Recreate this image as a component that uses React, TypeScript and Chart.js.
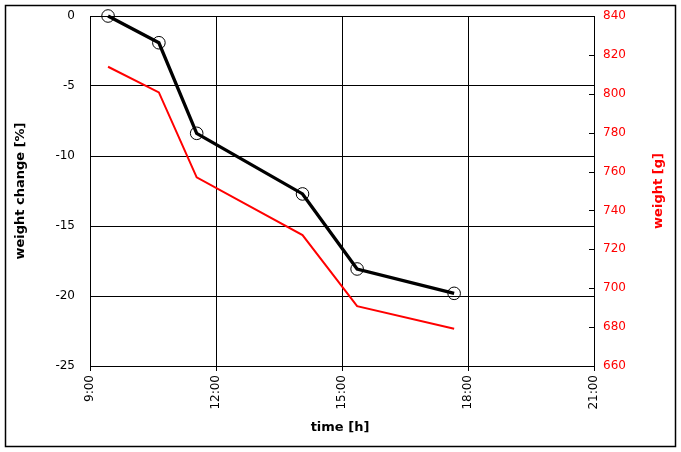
import React, { useEffect, useRef } from "react";
import { Chart, registerables } from "chart.js";

Chart.register(...registerables);

// time of day in hours
const times = [9.43, 10.64, 11.54, 14.06, 15.36, 17.67];
// weight change [%]
const weightChange = [0, -1.91, -8.38, -12.71, -18.07, -19.81];
// weight [g]
const weightGrams = [813.9, 800.7, 757.0, 727.3, 690.8, 679.2];

const xTickHours = [9, 12, 15, 18, 21];
const xTitle = "time [h]";
const yTitle = "weight change [%]";
const y1Title = "weight [g]";

const FONT = "'DejaVu Sans', Verdana, sans-serif";
const RED = "#ff0000";

const noPad = (scale: any) => {
  scale.paddingTop = 0;
  scale.paddingBottom = 0;
  scale.paddingLeft = 0;
  scale.paddingRight = 0;
};

const decorPlugin = {
  id: "decor",
  afterDraw(chart: any) {
    const ctx = chart.ctx;
    const area = chart.chartArea;
    const y1 = chart.scales.y1;
    ctx.save();
    // outer frame
    ctx.strokeStyle = "#000";
    ctx.lineWidth = 1.5;
    ctx.strokeRect(5.5, 5.5, chart.width - 11, chart.height - 11);
    // inward ticks on right axis
    ctx.lineWidth = 1;
    y1.ticks.forEach((t: any) => {
      const py = Math.round(y1.getPixelForValue(t.value)) + 0.5;
      ctx.beginPath();
      ctx.moveTo(area.right - 5, py);
      ctx.lineTo(area.right, py);
      ctx.stroke();
    });
    // titles
    const cy = (area.top + area.bottom) / 2;
    ctx.font = `bold 13px ${FONT}`;
    ctx.textAlign = "center";
    ctx.textBaseline = "middle";
    ctx.fillStyle = "#000";
    ctx.save();
    ctx.translate(21, cy);
    ctx.rotate(-Math.PI / 2);
    ctx.fillText(yTitle, 0, 0);
    ctx.restore();
    ctx.save();
    ctx.fillStyle = RED;
    ctx.translate(659, cy);
    ctx.rotate(-Math.PI / 2);
    ctx.fillText(y1Title, 0, 0);
    ctx.restore();
    ctx.fillText(xTitle, 340, 428);
    ctx.restore();
  },
};

export default function App() {
  const ref = useRef<HTMLCanvasElement>(null);

  useEffect(() => {
    document.body.style.margin = "0";
    const canvas = ref.current;
    if (!canvas) return;
    const chart = new Chart(canvas, {
      type: "line",
      data: {
        datasets: [
          {
            label: "weight change",
            data: times.map((t, i) => ({ x: t, y: weightChange[i] })),
            borderColor: "#000",
            borderWidth: 3.3,
            pointRadius: 6.3,
            pointBorderWidth: 1,
            pointBorderColor: "#000",
            pointBackgroundColor: "rgba(0,0,0,0)",
            yAxisID: "y",
            clip: false as any,
            tension: 0,
            order: 0,
          },
          {
            label: "weight",
            data: times.map((t, i) => ({ x: t, y: weightGrams[i] })),
            borderColor: RED,
            borderWidth: 2,
            pointRadius: 0,
            yAxisID: "y1",
            tension: 0,
            order: 1,
          },
        ],
      },
      options: {
        responsive: false,
        animation: false,
        devicePixelRatio: 1,
        layout: { padding: { top: 16, left: 0, right: 0, bottom: 0 } },
        plugins: {
          legend: { display: false },
          tooltip: { enabled: false },
        },
        scales: {
          x: {
            type: "linear",
            min: xTickHours[0],
            max: xTickHours[xTickHours.length - 1],
            afterBuildTicks: (scale: any) => {
              scale.ticks = xTickHours.map((v) => ({ value: v }));
            },
            ticks: {
              autoSkip: false,
              minRotation: 90,
              maxRotation: 90,
              padding: 4,
              color: "#000",
              font: { family: FONT, size: 12 },
              callback: (v: any) => `${v}:00`,
            },
            grid: { color: "#000", lineWidth: 1, tickLength: 5, drawTicks: true },
            border: { color: "#000", width: 1 },
            afterFit: (scale: any) => {
              scale.height = 86;
              noPad(scale);
            },
          },
          y: {
            type: "linear",
            position: "left",
            min: -25,
            max: 0,
            ticks: {
              stepSize: 5,
              padding: 15,
              color: "#000",
              font: { family: FONT, size: 12 },
            },
            grid: { color: "#000", lineWidth: 1, drawTicks: false },
            border: { color: "#000", width: 1 },
            afterFit: (scale: any) => {
              scale.width = 90;
              noPad(scale);
            },
          },
          y1: {
            type: "linear",
            position: "right",
            min: 660,
            max: 840,
            ticks: {
              stepSize: 20,
              padding: 9,
              color: RED,
              font: { family: FONT, size: 12 },
            },
            grid: { display: false, drawTicks: false },
            border: { color: "#000", width: 1 },
            afterFit: (scale: any) => {
              scale.width = 87;
              noPad(scale);
            },
          },
        },
      } as any,
      plugins: [decorPlugin],
    });
    return () => chart.destroy();
  }, []);

  return (
    <div style={{ width: 681, height: 452, background: "#fff" }}>
      <canvas ref={ref} width={681} height={452} style={{ display: "block" }} />
    </div>
  );
}
